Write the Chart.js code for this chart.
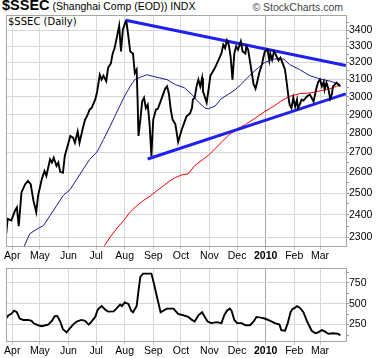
<!DOCTYPE html>
<html>
<head>
<meta charset="utf-8">
<script src="https://cdn.jsdelivr.net/npm/chart.js@4.4.1/dist/chart.umd.min.js"></script>
<style>
  body { margin: 0; background: #fff; width: 377px; height: 358px; position: relative; overflow: hidden; font-family: "Liberation Sans", Arial, sans-serif; }
  #title { position: absolute; left: 2px; top: -2px; font-size: 10.5px; line-height: 14px; white-space: nowrap; }
  #title b { font-size: 14.5px; }
  #credit { position: absolute; right: 34px; top: 1px; font-size: 10.5px; color: #444; }
  #label { position: absolute; left: 7px; top: 16px; background: #fff; font: 10px "DejaVu Sans", sans-serif; padding: 0 2px 1px 1px; z-index: 2; }
  .box { position: absolute; left: 0; }
</style>
</head>
<body>
<div id="title"><b>$SSEC</b> (Shanghai Comp (EOD)) INDX</div>
<div id="credit">© StockCharts.com</div>
<div id="label">$SSEC (Daily)</div>
<div class="box" style="top:0"><canvas id="priceChart" width="377" height="262"></canvas></div>
<div class="box" style="top:262px"><canvas id="lowerChart" width="377" height="96"></canvas></div>

<script>
// x values are calendar days counted from 1 Apr 2009
const monthDays = [0, 30, 61, 91, 122, 153, 183, 214, 244, 275, 306, 334];
const monthLabels = ["Apr", "May", "Jun", "Jul", "Aug", "Sep", "Oct", "Nov", "Dec", "2010", "Feb", "Mar"];

const priceTicks = [2300, 2400, 2500, 2600, 2700, 2800, 2900, 3000, 3100, 3200, 3300, 3400];
const priceMinorTicks = [2350, 2450, 2550, 2650, 2750, 2850, 2950, 3050, 3150, 3250, 3350, 3450];
const lowerTicks = [250, 500, 750];
const lowerMinorTicks = [125, 375, 625, 875];

// daily close
const priceDays = [-7, -5, -1, 3, 5, 7, 10, 14, 17, 20, 23, 26, 28, 32, 35, 37, 41, 43, 45, 48,
  50, 52, 55, 57, 61, 63, 66, 68, 71, 73, 76, 79, 81, 84, 86, 90, 92, 95, 97, 99,
  102, 104, 107, 109, 111, 113, 116, 118, 120, 123, 124, 126, 128, 131, 133, 135, 136, 137, 139, 141,
  143, 145, 147, 149, 151, 153, 156, 158, 161, 164, 166, 168, 170, 172, 174, 177, 180, 184, 189, 193,
  195, 196, 198, 200, 202, 204, 206, 207, 211, 213, 215, 220, 224, 227, 229, 231, 233, 235, 237, 239,
  241, 243, 245, 248, 250, 253, 254, 256, 258, 260, 262, 263, 264, 266, 268, 271, 272, 274, 277, 279,
  280, 282, 284, 286, 289, 291, 294, 296, 298, 300, 301, 303, 305, 307, 309, 310, 312, 314, 316, 320,
  323, 327, 330, 332, 334, 336, 338, 339, 341, 343, 345, 347, 348, 350, 352, 354, 356];
const priceClose = [2300, 2382, 2375, 2419, 2434, 2349, 2504, 2543, 2559, 2543, 2465, 2413, 2488, 2567, 2607, 2583, 2665, 2649, 2673, 2632,
  2649, 2603, 2599, 2682, 2750, 2786, 2777, 2750, 2809, 2750, 2814, 2873, 2890, 2928, 2936, 2983, 3025, 3127, 3098, 3121,
  3089, 3168, 3194, 3255, 3287, 3341, 3430, 3267, 3404, 3458, 3452, 3362, 3267, 3255, 3137, 3157, 2983, 2786, 2873, 2973,
  2994, 2936, 2955, 2851, 2682, 2873, 2928, 2932, 2973, 3017, 3046, 3059, 3017, 2928, 2873, 2849, 2754, 2820, 2889, 2908,
  2936, 2983, 2994, 3059, 3098, 3059, 3108, 3030, 2967, 3040, 3120, 3168, 3217, 3255, 3309, 3287, 3336, 3309, 3234, 3098,
  3255, 3299, 3278, 3330, 3267, 3255, 3299, 3278, 3207, 3137, 3069, 3059, 3046, 3089, 3137, 3187, 3217, 3267, 3278, 3213,
  3255, 3217, 3267, 3247, 3213, 3229, 3187, 3157, 3074, 2989, 2955, 2936, 2994, 2944, 2983, 2936, 2955, 2983, 2978, 3002,
  3012, 2973, 3046, 3085, 3098, 3059, 3085, 3040, 3080, 3046, 2989, 3017, 3059, 3069, 3080, 3069, 3059];

// 50-day moving average
const ma50Days = [13, 19, 27, 34, 41, 48, 55, 63, 70, 77, 84, 92, 99, 106, 113, 121, 128, 133, 139, 146,
  153, 160, 168, 177, 187, 195, 202, 209, 213, 220, 227, 235, 242, 249, 258, 267, 274, 282, 288, 295,
  301, 312, 323, 334, 345, 356];
const ma50 = [2262, 2316, 2337, 2352, 2397, 2441, 2488, 2519, 2567, 2616, 2665, 2703, 2767, 2835, 2908, 2994, 3059, 3098, 3112, 3127,
  3117, 3108, 3098, 3069, 3050, 3012, 2970, 2937, 2932, 2947, 2989, 3015, 3040, 3074, 3124, 3168, 3199, 3218, 3224, 3220,
  3187, 3157, 3121, 3102, 3089, 3069];

// 200-day moving average
const ma200Days = [100, 106, 113, 121, 128, 135, 142, 150, 157, 164, 171, 177, 184, 191, 198, 213, 224, 235, 245, 253,
  264, 274, 285, 291, 301, 312, 323, 334, 345, 352, 356];
const ma200 = [2264, 2300, 2337, 2375, 2413, 2441, 2465, 2488, 2512, 2535, 2559, 2575, 2588, 2593, 2634, 2686, 2738, 2791, 2825, 2846,
  2882, 2917, 2950, 2973, 3002, 3017, 3021, 3033, 3046, 3059, 3065];

// triangle trendlines
const upperTrendDays = [123, 362];
const upperTrend = [3465, 3182];
const lowerTrendDays = [147, 362];
const lowerTrend = [2667, 3016];

// lower indicator panel
const lowerDays = [-7, -4, -1, 2, 5, 8, 12, 17, 21, 23, 28, 32, 36, 39, 43, 46, 49, 52, 55, 59,
  63, 66, 70, 75, 79, 83, 86, 90, 93, 97, 101, 104, 110, 113, 117, 119, 122, 126, 129, 131,
  135, 137, 139, 142, 146, 151, 154, 157, 159, 161, 164, 168, 175, 180, 186, 191, 195, 198, 202, 206,
  209, 212, 216, 222, 227, 230, 233, 236, 238, 241, 244, 249, 253, 258, 262, 265, 271, 274, 280, 285,
  290, 292, 296, 299, 302, 304, 307, 309, 312, 316, 320, 325, 329, 332, 336, 339, 343, 348, 354, 356];
const lowerValues = [323, 361, 379, 417, 398, 323, 306, 306, 294, 268, 242, 231, 242, 250, 294, 350, 353, 287, 194, 157,
  212, 250, 287, 306, 294, 250, 287, 342, 434, 472, 428, 406, 409, 442, 490, 472, 517, 498, 417, 398,
  472, 657, 823, 861, 861, 861, 731, 583, 490, 398, 417, 442, 442, 379, 361, 342, 306, 287, 361, 398,
  342, 287, 268, 279, 268, 361, 417, 442, 417, 306, 268, 268, 242, 242, 287, 342, 331, 323, 294, 268,
  250, 183, 176, 268, 398, 434, 453, 472, 453, 398, 287, 176, 146, 157, 183, 168, 139, 146, 139, 120];

const pts = (xs, ys) => xs.map((x, i) => ({ x: x, y: ys[i] }));

Chart.defaults.font.family = '"Liberation Sans", Arial, sans-serif';
Chart.defaults.font.size = 10.5;
Chart.defaults.color = "#000";

// grey box round each plot area
const framePlugin = {
  id: "frame",
  afterDraw(chart) {
    const a = chart.chartArea;
    const c = chart.ctx;
    const l = Math.floor(a.left) + 0.5, t = Math.floor(a.top) + 0.5;
    const r = Math.floor(a.right) + 0.5, b = Math.floor(a.bottom) + 0.5;
    c.save();
    c.strokeStyle = "#a6a6a6";
    c.lineWidth = 1;
    c.strokeRect(l, t, r - l, b - t);
    c.restore();
  }
};

function monthAxis(h) {
  return {
    type: "linear",
    min: -6.8,
    max: 362.2,
    afterBuildTicks: s => { s.ticks = monthDays.map(v => ({ value: v })); },
    afterFit: s => { s.height = h; },
    grid: {
      color: c => (c.tick && c.tick.value === 275 ? "#a8a8a8" : "#d8d8d8"),
      tickColor: "#c0c0c0",
      tickLength: 3
    },
    border: { display: false },
    ticks: {
      padding: 0,
      maxRotation: 0,
      autoSkip: false,
      font: c => ({ size: 10.5, weight: c.tick && c.tick.value === 275 ? "bold" : "normal" }),
      callback: v => monthLabels[monthDays.indexOf(v)]
    }
  };
}

function line(data, color, width) {
  return { data: data, borderColor: color, borderWidth: width, pointRadius: 0, tension: 0, fill: false };
}

new Chart(document.getElementById("priceChart"), {
  type: "line",
  data: {
    datasets: [
      line(pts(priceDays, priceClose), "#000", 1.9),
      line(pts(upperTrendDays, upperTrend), "#1f1ff0", 3),
      line(pts(lowerTrendDays, lowerTrend), "#1f1ff0", 3),
      line(pts(ma50Days, ma50), "#1c1c9c", 1),
      line(pts(ma200Days, ma200), "#ff0000", 1)
    ]
  },
  options: {
    responsive: false,
    animation: false,
    layout: { padding: { left: 6, top: 15, right: 0, bottom: 0 } },
    plugins: { legend: { display: false }, tooltip: { enabled: false } },
    scales: {
      x: monthAxis(15.3),
      y: {
        type: "logarithmic",
        position: "right",
        min: 2260,
        max: 3500,
        afterBuildTicks: s => {
          s.ticks = priceTicks.concat(priceMinorTicks).sort((a, b) => a - b).map(v => ({ value: v }));
        },
        afterFit: s => { s.width = 31; },
        grid: {
          color: c => (c.tick && priceTicks.includes(c.tick.value) ? "#d8d8d8" : "rgba(0,0,0,0)"),
          tickColor: "#999",
          tickLength: 3
        },
        border: { display: false },
        ticks: {
          padding: 0,
          autoSkip: false,
          font: { size: 10.5 },
          callback: v => (priceTicks.includes(v) ? String(v) : "")
        }
      }
    }
  },
  plugins: [framePlugin]
});

new Chart(document.getElementById("lowerChart"), {
  type: "line",
  data: {
    datasets: [line(pts(lowerDays, lowerValues), "#000", 1.9)]
  },
  options: {
    responsive: false,
    animation: false,
    layout: { padding: { left: 6, top: 0.7, right: 0, bottom: 0 } },
    plugins: { legend: { display: false }, tooltip: { enabled: false } },
    scales: {
      x: monthAxis(16.3),
      y: {
        type: "linear",
        position: "right",
        min: 45,
        max: 925,
        afterBuildTicks: s => {
          s.ticks = lowerTicks.concat(lowerMinorTicks).sort((a, b) => a - b).map(v => ({ value: v }));
        },
        afterFit: s => { s.width = 31; },
        grid: {
          color: c => (c.tick && lowerTicks.includes(c.tick.value) ? "#d8d8d8" : "rgba(0,0,0,0)"),
          tickColor: "#999",
          tickLength: 3
        },
        border: { display: false },
        ticks: {
          padding: 0,
          autoSkip: false,
          font: { size: 10.5 },
          callback: v => (lowerTicks.includes(v) ? String(v) : "")
        }
      }
    }
  },
  plugins: [framePlugin]
});
</script>
</body>
</html>
